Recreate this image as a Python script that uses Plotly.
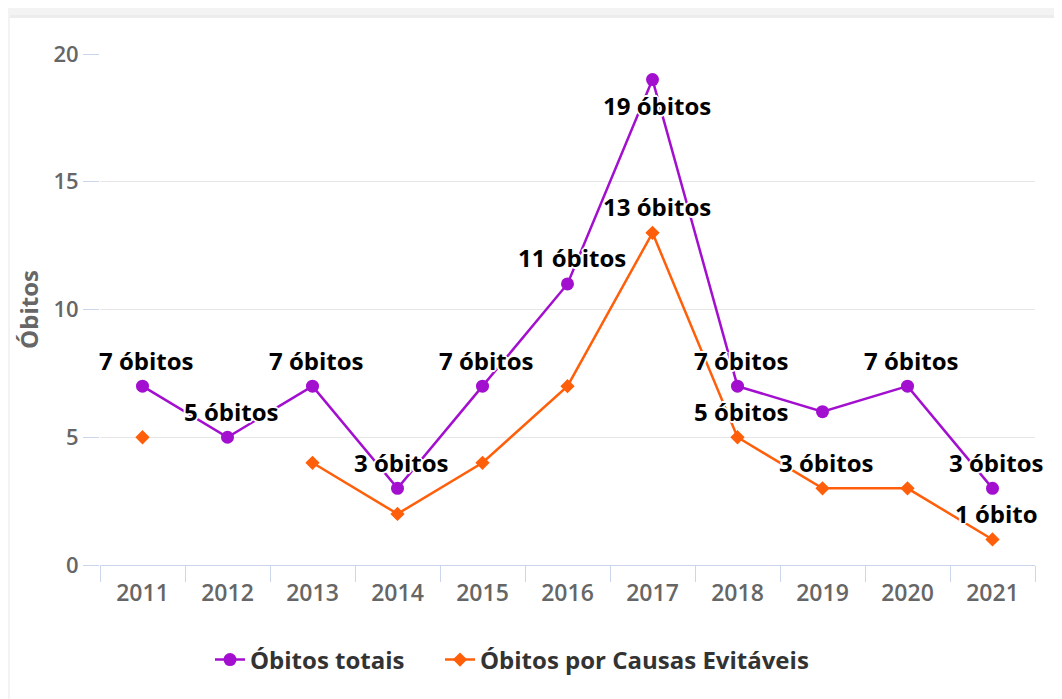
import plotly.graph_objects as go

years = ["2011", "2012", "2013", "2014", "2015", "2016", "2017", "2018", "2019", "2020", "2021"]
totais = [7, 5, 7, 3, 7, 11, 19, 7, 6, 7, 3]
evitaveis = [5, None, 4, 2, 4, 7, 13, 5, 3, 3, 1]
# which data labels are visible in the reference (others hidden by overlap)
totais_label_shown = [True, True, True, True, True, True, True, True, False, True, True]
evitaveis_label_shown = [False, False, False, False, False, False, True, True, True, False, True]

PURPLE = "#a30fcf"
ORANGE = "#ff5f0a"
FONT = "Open Sans"

# page has an 8px body margin; figure coordinates = page coordinates - 8
OFF = 8
W, H = 1062 - OFF, 699 - OFF
L, R, T, B = 100 - OFF, 27, 54 - OFF, 134
PW, PH = W - L - R, H - T - B

def px_x(px):
    return (px - OFF - L) / PW

def px_y(py):
    return (H - B - (py - OFF)) / PH

fig = go.Figure()
fig.add_trace(go.Scatter(
    x=years, y=totais, name="Óbitos totais", mode="lines+markers",
    line=dict(color=PURPLE, width=2.5),
    marker=dict(symbol="circle", size=13, color=PURPLE),
    legend="legend",
))
fig.add_trace(go.Scatter(
    x=years, y=evitaveis, name="Óbitos por Causas Evitáveis", mode="lines+markers",
    line=dict(color=ORANGE, width=2.5), connectgaps=False,
    marker=dict(symbol="diamond", size=11, color=ORANGE),
    legend="legend2",
))

def label(v):
    return f"{v} óbito" if v == 1 else f"{v} óbitos"

outline = "2px 0 0 #fff, -2px 0 0 #fff, 0 2px 0 #fff, 0 -2px 0 #fff, 1px 1px 0 #fff, -1px -1px 0 #fff, 1px -1px 0 #fff, -1px 1px 0 #fff"
ymax = 20
annotations = []
for series, shown in ((totais, totais_label_shown), (evitaveis, evitaveis_label_shown)):
    for i, (v, s) in enumerate(zip(series, shown)):
        if v is None or not s:
            continue
        shift = -26 if v >= ymax - 1 else 26
        annotations.append(dict(
            x=i, y=v, xref="x", yref="y", text=label(v), showarrow=False, yshift=shift, xshift=4,
            font=dict(family=FONT, size=24, color="#000", weight="bold", shadow=outline),
        ))

shapes = [
    dict(type="rect", xref="paper", yref="paper", x0=px_x(0), x1=px_x(1062), y0=px_y(0), y1=px_y(15),
         fillcolor="#f3f3f3", line=dict(width=0), layer="below"),
    dict(type="rect", xref="paper", yref="paper", x0=px_x(0), x1=px_x(10), y0=px_y(0), y1=px_y(699),
         fillcolor="#f3f3f3", line=dict(width=0), layer="below"),
    dict(type="rect", xref="paper", yref="paper", x0=px_x(10), x1=px_x(1062), y0=px_y(15), y1=px_y(18),
         fillcolor="#ececec", line=dict(width=0), layer="below"),
]

legend_font = dict(family=FONT, size=24, color="#333333", weight="bold")
fig.update_layout(
    width=W, height=H,
    margin=dict(l=L, r=R, t=T, b=B, autoexpand=False),
    paper_bgcolor="#ffffff", plot_bgcolor="rgba(0,0,0,0)",
    font=dict(family=FONT, color="#666666"),
    showlegend=True,
    legend=dict(orientation="h", x=px_x(210), xanchor="left", y=px_y(660), yanchor="middle",
                font=legend_font, itemwidth=30, bgcolor="rgba(0,0,0,0)"),
    legend2=dict(orientation="h", x=px_x(440), xanchor="left", y=px_y(660), yanchor="middle",
                 font=legend_font, itemwidth=30, bgcolor="rgba(0,0,0,0)"),
    annotations=annotations,
    shapes=shapes,
    hovermode=False,
)
fig.update_xaxes(
    type="category", range=[-0.5, len(years) - 0.5],
    showgrid=False, showline=True, linecolor="#ccd6eb", linewidth=1,
    ticks="outside", tickson="boundaries", ticklen=16, tickcolor="#ccd6eb",
    ticklabelstandoff=7,
    tickfont=dict(family=FONT, size=23, color="#666666", weight=600),
    zeroline=False,
)
fig.update_yaxes(
    range=[0, 20], dtick=5, tick0=0,
    showgrid=True, gridcolor="#e6e6e6", gridwidth=1,
    ticks="outside", ticklen=16, tickcolor="#ccd6eb",
    tickfont=dict(family=FONT, size=22, color="#666666", weight=600),
    showline=False, zeroline=False,
    title=dict(text="Óbitos", font=dict(family=FONT, size=24, color="#666666", weight="bold"), standoff=8),
)

fig.write_html("out.html")
